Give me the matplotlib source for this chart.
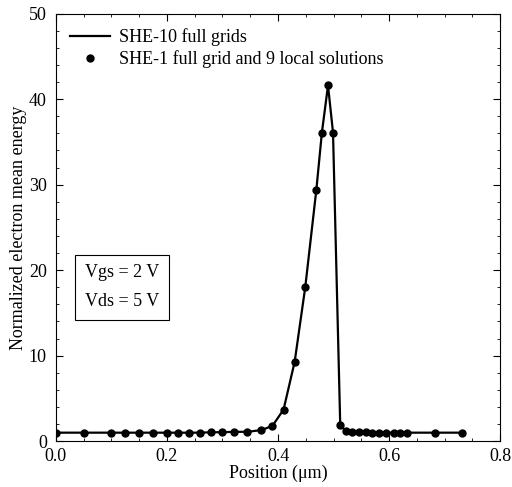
import matplotlib
matplotlib.use("Agg")
import matplotlib.pyplot as plt
from matplotlib.ticker import MultipleLocator
from matplotlib.legend_handler import HandlerLine2D

# position (um) and normalized mean energy
position = [0.0, 0.05, 0.1, 0.125, 0.15, 0.175, 0.2, 0.22, 0.24, 0.26,
            0.28, 0.3, 0.32, 0.345, 0.37, 0.39, 0.41, 0.43, 0.449, 0.469,
            0.479, 0.49, 0.499, 0.512, 0.522, 0.534, 0.546, 0.558, 0.57,
            0.582, 0.594, 0.608, 0.62, 0.633, 0.682, 0.731]
energy_full = [1.0, 1.0, 1.0, 1.0, 1.0, 1.0, 1.0, 1.0, 1.0, 1.0,
               1.05, 1.05, 1.1, 1.1, 1.3, 1.8, 3.7, 9.3, 18.0, 29.4,
               36.1, 41.6, 36.1, 1.9, 1.2, 1.1, 1.05, 1.05, 1.0,
               1.0, 1.0, 1.0, 1.0, 1.0, 1.0, 1.0]
energy_local = list(energy_full)


class RightMarker(HandlerLine2D):
    # put the legend dot at the right end of the handle, like the original
    def get_xdata(self, legend, xdescent, ydescent, width, height, fontsize):
        xdata = [-xdescent, -xdescent + width]
        return xdata, [-xdescent + width - 0.2 * fontsize]


plt.rcParams["font.family"] = ["Liberation Serif", "DejaVu Serif"]

fig = plt.figure(figsize=(5.12, 4.87), dpi=100)
ax = fig.add_axes([0.109, 0.094, 0.868, 0.878])

ax.plot(position, energy_full, "-", color="black", lw=1.6,
        label="SHE-10 full grids")
dots, = ax.plot(position, energy_local, "o", color="black", ms=5,
                label="SHE-1 full grid and 9 local solutions")

ax.set_xlim(0, 0.8)
ax.set_ylim(0, 50)
ax.xaxis.set_major_locator(MultipleLocator(0.2))
ax.xaxis.set_minor_locator(MultipleLocator(0.05))
ax.yaxis.set_major_locator(MultipleLocator(10))
ax.yaxis.set_minor_locator(MultipleLocator(2))
ax.xaxis.set_major_formatter(plt.FormatStrFormatter("%.1f"))
ax.tick_params(which="both", direction="in", top=True, right=True,
               labelsize=13)
ax.tick_params(axis="x", pad=5)
ax.tick_params(axis="y", pad=6.5)
ax.tick_params(which="major", length=5)
ax.tick_params(which="minor", length=2.5)

ax.set_xlabel("Position (\u03bcm)", fontsize=13, labelpad=0)
ax.set_ylabel("Normalized electron mean energy", fontsize=13, labelpad=1)

ax.legend(loc="upper left", frameon=False, fontsize=13, handlelength=2.2,
          handletextpad=0.5, borderaxespad=0.4, labelspacing=0.25,
          numpoints=1, handler_map={dots: RightMarker()})

ax.text(0.149, 0.36, "Vgs = 2 V\nVds = 5 V", transform=ax.transAxes,
        ha="center", va="center", fontsize=13, linespacing=1.9,
        bbox=dict(boxstyle="square,pad=0.55", fc="white", ec="black", lw=0.8))

fig.savefig("out.png", dpi=100)
